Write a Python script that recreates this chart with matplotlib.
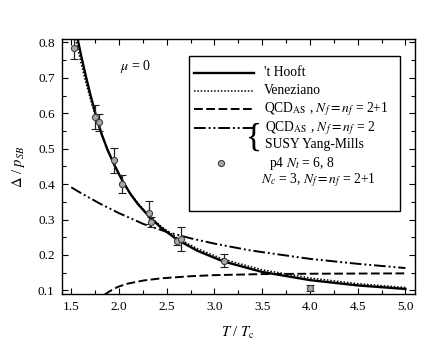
import numpy as np
import matplotlib
matplotlib.use("Agg")
import matplotlib.pyplot as plt
from matplotlib.ticker import MultipleLocator

plt.rcParams["font.family"] = ["Liberation Serif", "DejaVu Serif"]
plt.rcParams["mathtext.fontset"] = "stix"

# curves (T/Tc, Delta/p_SB)
thooft_x = [1.566, 1.60, 1.65, 1.70, 1.76, 1.82, 1.88, 1.95, 2.035, 2.12, 2.20, 2.31,
            2.44, 2.61, 2.82, 3.09, 3.5, 4.0, 4.5, 5.0]
thooft_y = [0.811, 0.767, 0.708, 0.653, 0.592, 0.54, 0.497, 0.455, 0.41, 0.372, 0.343, 0.31,
            0.277, 0.243, 0.212, 0.182, 0.152, 0.129, 0.114, 0.104]

venez_x = [1.545, 1.60, 1.65, 1.70, 1.76, 1.82, 1.88, 1.95, 2.035, 2.12, 2.20, 2.31,
           2.44, 2.61, 2.82, 3.09, 3.5, 4.0, 4.5, 5.0]
venez_y = [0.81, 0.745, 0.69, 0.641, 0.588, 0.538, 0.496, 0.455, 0.411, 0.374, 0.346, 0.313,
           0.281, 0.248, 0.218, 0.188, 0.158, 0.135, 0.119, 0.108]

qcd21_x = [1.85, 1.90, 1.95, 2.00, 2.09, 2.26, 2.44, 2.75, 3.0, 3.5, 4.0, 4.5, 5.0]
qcd21_y = [0.088, 0.097, 0.105, 0.111, 0.119, 0.128, 0.134, 0.14, 0.143, 0.146, 0.147,
           0.1475, 0.148]

qcd2_x = [1.5, 1.6, 1.7, 1.8, 2.0, 2.16, 2.25, 2.5, 2.75, 3.0, 3.35, 3.5, 4.0, 4.5, 5.0]
qcd2_y = [0.391, 0.375, 0.36, 0.345, 0.318, 0.299, 0.288, 0.265, 0.247, 0.232, 0.214, 0.208,
          0.189, 0.175, 0.163]

# p4 lattice points
p4_x = [1.528, 1.75, 1.79, 1.952, 2.036, 2.314, 2.332, 2.605, 2.647, 3.095, 4.0]
p4_y = [0.785, 0.59, 0.574, 0.467, 0.401, 0.319, 0.294, 0.238, 0.244, 0.184, 0.106]
p4_err = [0.033, 0.033, 0.024, 0.036, 0.025, 0.032, 0.014, 0.01, 0.034, 0.018, 0.008]

fig = plt.figure(figsize=(4.36, 3.52), dpi=100)
ax = fig.add_axes([0.1415, 0.165, 0.8103, 0.7245])

ax.plot(thooft_x, thooft_y, color="black", lw=1.7)
ax.plot(venez_x, venez_y, color="black", lw=1.1, linestyle=(0, (1, 1.2)))
ax.plot(qcd21_x, qcd21_y, color="black", lw=1.4, dashes=[4.5, 1.8])
ax.plot(qcd2_x, qcd2_y, color="black", lw=1.4, dashes=[6, 1.5, 1, 1.5, 1, 1.5])
ax.errorbar(p4_x, p4_y, yerr=p4_err, fmt="o", ms=4.4, mfc="#a8a8a8", mec="#404040",
            mew=0.8, ecolor="#202020", elinewidth=0.9, capsize=3, capthick=0.9, zorder=5)

ax.set_xlim(1.4, 5.1)
ax.set_ylim(0.09, 0.81)
ax.xaxis.set_major_locator(MultipleLocator(0.5))
ax.xaxis.set_minor_locator(MultipleLocator(0.25))
ax.yaxis.set_major_locator(MultipleLocator(0.1))
ax.yaxis.set_minor_locator(MultipleLocator(0.05))
ax.xaxis.set_major_formatter(plt.FormatStrFormatter("%.1f"))
ax.yaxis.set_major_formatter(plt.FormatStrFormatter("%.1f"))
ax.tick_params(which="both", direction="in", top=True, right=True, labelsize=9.5, width=0.8)
ax.tick_params(which="major", length=4, pad=5)
ax.tick_params(which="minor", length=3)
for s in ax.spines.values():
    s.set_linewidth(1.0)

ax.set_xlabel(r"$T$ / $T_{\mathrm{c}}$", fontsize=10.5, labelpad=9)
ax.set_ylabel(r"$\Delta$ / $p_{SB}$", fontsize=10.5, labelpad=8)
ax.text(0.165, 0.89, r"$\mu$ = 0", transform=ax.transAxes, fontsize=10, va="center")

# hand-built legend box
tr = ax.transAxes
ax.add_patch(plt.Rectangle((0.361, 0.325), 0.597, 0.606, transform=tr, fill=False,
                           lw=1.0, ec="black", zorder=6))
sx = [0.375, 0.545]
ax.plot(sx, [0.868, 0.868], transform=tr, color="black", lw=1.7)
ax.plot(sx, [0.796, 0.796], transform=tr, color="black", lw=1.1, linestyle=(0, (1, 1.2)))
ax.plot(sx, [0.725, 0.725], transform=tr, color="black", lw=1.4, dashes=[4.5, 1.8])
ax.plot(sx, [0.650, 0.650], transform=tr, color="black", lw=1.4,
        dashes=[6, 1.5, 1, 1.5, 1, 1.5])
ax.plot([0.451], [0.513], transform=tr, marker="o", ms=4.4, mfc="#a8a8a8", mec="#404040",
        mew=0.8, ls="none")
fs = 9.8
ax.text(0.572, 0.868, "'t Hooft", transform=tr, fontsize=fs, va="center")
ax.text(0.572, 0.796, "Veneziano", transform=tr, fontsize=fs, va="center")
ax.text(0.572, 0.725, r"QCD$_{\mathrm{AS}}$ , $N_f = n_f$ = 2+1", transform=tr,
        fontsize=fs, va="center")
ax.text(0.567, 0.614, "{", transform=tr, fontsize=24, va="center", ha="right")
ax.text(0.575, 0.650, r"QCD$_{\mathrm{AS}}$ , $N_f = n_f$ = 2", transform=tr,
        fontsize=fs, va="center")
ax.text(0.575, 0.584, "SUSY Yang-Mills", transform=tr, fontsize=fs, va="center")
ax.text(0.587, 0.513, r"p4 $N_t$ = 6, 8", transform=tr, fontsize=fs, va="center")
ax.text(0.565, 0.447, r"$N_c$ = 3, $N_f = n_f$ = 2+1", transform=tr, fontsize=fs,
        va="center")

fig.savefig("out.png", dpi=100)
